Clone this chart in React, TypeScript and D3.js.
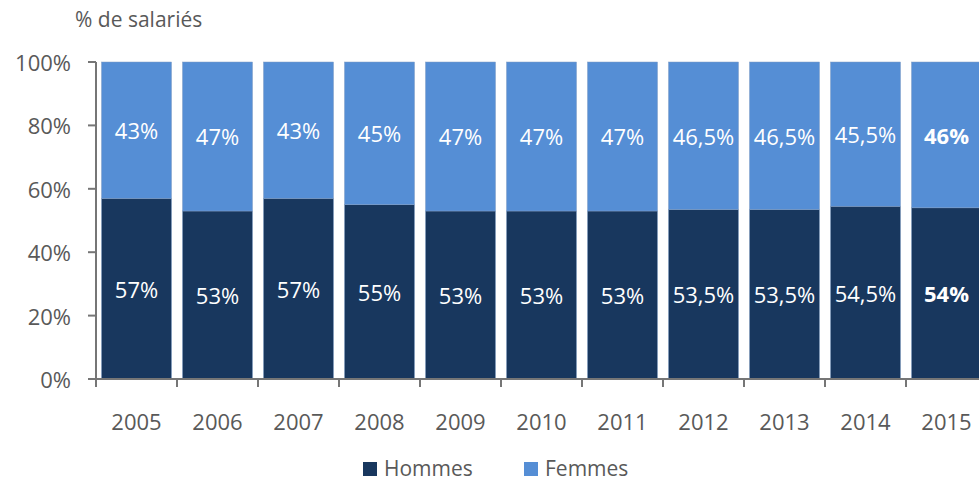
import * as React from 'react'
import * as d3 from 'd3'

const years = ['2005', '2006', '2007', '2008', '2009', '2010', '2011', '2012', '2013', '2014', '2015']
const hommes = [57, 53, 57, 55, 53, 53, 53, 53.5, 53.5, 54.5, 54]
const femmes = [43, 47, 43, 45, 47, 47, 47, 46.5, 46.5, 45.5, 46]
const yTicks = [0, 20, 40, 60, 80, 100]
const seriesNames = ['Hommes', 'Femmes']

const colors = ['#18375e', '#558ed5']
const font = '"Open Sans", sans-serif'
const grey = '#595959'

const fmt = (v: number) => String(v).replace('.', ',') + '%'

const App = () => {
  const width = 979
  const height = 483
  const x0 = 96
  const top = 62
  const bottom = 379
  const step = 81

  const x = d3.scaleBand<string>()
    .domain(years)
    .range([x0, x0 + step * years.length])
    .paddingInner(0.136)
    .paddingOuter(0.068)
  const y = d3.scaleLinear().domain([0, 100]).range([bottom, top])

  const rows = years.map((yr, i) => ({ yr, Hommes: hommes[i], Femmes: femmes[i] }))
  const stacked = d3.stack<any>().keys(seriesNames)(rows)

  const last = years.length - 1

  return (
    <svg width={width} height={height} style={{ display: 'block', position: 'absolute', left: 0, top: 0 }}>
      <rect width={width} height={height} fill="#fff" />
      <text x={75} y={27} fontFamily={font} fontSize={21} fill={grey}>% de salariés</text>

      {stacked.map((s, si) => (
        <g key={s.key}>
          {s.map((d, i) => {
            const bx = x(years[i]) as number
            const y1 = y(d[1])
            const y0 = y(d[0])
            const v = si === 0 ? hommes[i] : femmes[i]
            return (
              <g key={i}>
                <rect x={bx} y={y1} width={x.bandwidth()} height={y0 - y1} fill={colors[si]} stroke="#7f9cc4" strokeWidth={0.5} />
                <text
                  x={bx + x.bandwidth() / 2}
                  y={(y0 + y1) / 2}
                  textAnchor="middle"
                  dominantBaseline="central"
                  fontFamily={font}
                  fontSize={22}
                  fontWeight={i === last ? 700 : 400}
                  fill="#fff"
                >{fmt(v)}</text>
              </g>
            )
          })}
        </g>
      ))}

      {/* y axis */}
      <line x1={x0} x2={x0} y1={top} y2={bottom} stroke="#767676" strokeWidth={2} />
      {yTicks.map(t => (
        <g key={t}>
          <line x1={x0 - 8} x2={x0} y1={y(t)} y2={y(t)} stroke="#767676" strokeWidth={2} />
          <text x={71} y={y(t)} textAnchor="end" dominantBaseline="central" fontFamily={font} fontSize={22} fill={grey}>{t}%</text>
        </g>
      ))}

      {/* x axis */}
      <line x1={x0} x2={x0 + step * years.length} y1={bottom} y2={bottom} stroke="#767676" strokeWidth={2} />
      {years.map((yr, i) => (
        <g key={yr}>
          <line x1={x0 + step * i} x2={x0 + step * i} y1={bottom} y2={bottom + 8} stroke="#767676" strokeWidth={2} />
          <text x={(x(yr) as number) + x.bandwidth() / 2} y={421} textAnchor="middle" dominantBaseline="central" fontFamily={font} fontSize={22} fill={grey}>{yr}</text>
        </g>
      ))}

      {/* legend */}
      {seriesNames.map((n, i) => {
        const lx = i === 0 ? 363 : 524
        return (
          <g key={n}>
            <rect x={lx} y={462} width={14} height={14} fill={colors[i]} />
            <text x={lx + 21} y={468} dominantBaseline="central" fontFamily={font} fontSize={21} fill={grey}>{n}</text>
          </g>
        )
      })}
    </svg>
  )
}

export default App
